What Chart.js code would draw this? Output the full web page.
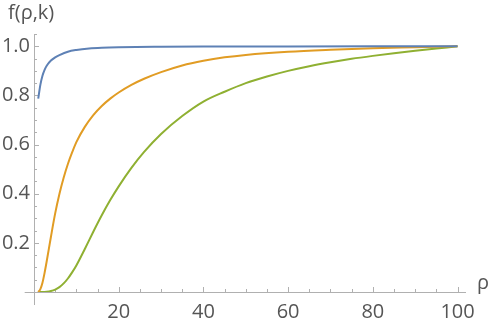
<!DOCTYPE html>
<html>
<head>
<meta charset="utf-8">
<script src="https://cdn.jsdelivr.net/npm/chart.js@4"></script>
<style>
  html, body { margin: 0; padding: 0; background: #fff; }
  #wrap { width: 491px; height: 322px; }
</style>
</head>
<body>
<div id="wrap"><canvas id="chart"></canvas></div>
<script>
// Data
const rhoBlue = [1, 1.5, 2, 2.5, 3, 4, 5, 6, 8, 10, 13, 16, 20, 30, 40, 60, 80, 100];
const fBlue   = [0.787, 0.843, 0.88, 0.904, 0.921, 0.942, 0.955, 0.964, 0.978, 0.985, 0.991, 0.994, 0.996, 0.998, 0.999, 0.9995, 0.9998, 1.0];

const rhoOrange = [1, 1.5, 2, 2.5, 3, 4, 5, 6, 7, 8, 9, 10, 12, 14, 16, 18, 20, 23, 26, 30, 35, 40, 45, 50, 60, 70, 80, 90, 100];
const fOrange   = [0, 0.012, 0.038, 0.078, 0.125, 0.225, 0.32, 0.399, 0.465, 0.521, 0.568, 0.61, 0.672, 0.72, 0.757, 0.787, 0.812, 0.843, 0.868, 0.895, 0.922, 0.941, 0.955, 0.965, 0.978, 0.986, 0.992, 0.996, 1.0];

const rhoGreen = [1, 2, 3, 4, 5, 6, 7, 8, 9, 10, 12, 14, 16, 18, 20, 23, 26, 30, 35, 40, 45, 50, 55, 60, 65, 70, 75, 80, 85, 90, 95, 100];
const fGreen   = [0, 0, 0.001, 0.004, 0.01, 0.02, 0.035, 0.055, 0.08, 0.108, 0.175, 0.245, 0.312, 0.374, 0.43, 0.505, 0.57, 0.643, 0.716, 0.775, 0.815, 0.85, 0.877, 0.9, 0.919, 0.935, 0.949, 0.961, 0.972, 0.982, 0.991, 1.0];

const xLabelTicks = [20, 40, 60, 80, 100];
const yLabelTicks = [0.2, 0.4, 0.6, 0.8, 1.0];

const FONT = '"Open Sans", "DejaVu Sans", sans-serif';
const TEXT = '#555555';
const AXIS = '#b0b0b0';

const pts = (xs, ys) => xs.map((x, i) => ({ x: x, y: ys[i] }));

// Mathematica-style axes: lines through the origin, ticks pointing inward
const axesPlugin = {
  id: 'axes',
  beforeDatasetsDraw(chart) {
    const ctx = chart.ctx;
    const xs = chart.scales.x, ys = chart.scales.y;
    const x0 = xs.getPixelForValue(0), y0 = ys.getPixelForValue(0);
    ctx.save();
    ctx.strokeStyle = AXIS;
    ctx.lineWidth = 1;
    ctx.beginPath();
    ctx.moveTo(xs.getPixelForValue(-2.2), y0 + 0.5);
    ctx.lineTo(xs.right, y0 + 0.5);
    ctx.moveTo(x0 + 0.5, ys.getPixelForValue(-0.053));
    ctx.lineTo(x0 + 0.5, ys.top);
    xs.ticks.forEach(t => {
      const v = Math.round(t.value * 1000) / 1000;
      if (v <= 0 || v % 5 !== 0) return;
      const len = v % 20 === 0 ? 5 : 3;
      const px = Math.round(xs.getPixelForValue(v)) + 0.5;
      ctx.moveTo(px, y0);
      ctx.lineTo(px, y0 - len);
    });
    ys.ticks.forEach(t => {
      const r = Math.round(t.value * 100);
      if (r <= 0 || r % 5 !== 0) return;
      const len = r % 20 === 0 ? 5 : 3;
      const py = Math.round(ys.getPixelForValue(t.value)) + 0.5;
      ctx.moveTo(x0, py);
      ctx.lineTo(x0 + len, py);
    });
    ctx.stroke();

    // axis labels
    ctx.fillStyle = TEXT;
    ctx.font = '20px ' + FONT;
    ctx.textBaseline = 'alphabetic';
    ctx.textAlign = 'left';
    ctx.fillText('f(ρ,k)', 8, 19);
    ctx.fillText('ρ', 477, 289);
    ctx.restore();
  }
};

new Chart(document.getElementById('chart'), {
  type: 'line',
  data: {
    datasets: [
      { label: 'blue', data: pts(rhoBlue, fBlue), borderColor: '#5E81B5' },
      { label: 'orange', data: pts(rhoOrange, fOrange), borderColor: '#E19C24' },
      { label: 'green', data: pts(rhoGreen, fGreen), borderColor: '#8FB032' }
    ].map(d => Object.assign(d, {
      borderWidth: 2,
      pointRadius: 0,
      fill: false,
      cubicInterpolationMode: 'monotone'
    }))
  },
  options: {
    responsive: true,
    maintainAspectRatio: false,
    animation: false,
    devicePixelRatio: 1,
    layout: { padding: { top: 34, right: 25, left: 0, bottom: 0 } },
    plugins: { legend: { display: false }, tooltip: { enabled: false } },
    scales: {
      x: {
        type: 'linear',
        min: 0,
        max: 102,
        grid: { display: false, drawTicks: false },
        border: { display: false },
        ticks: {
          stepSize: 5,
          includeBounds: false,
          autoSkip: false,
          maxRotation: 0,
          padding: 8,
          color: TEXT,
          font: { family: FONT, size: 20 },
          callback: v => xLabelTicks.includes(Math.round(v * 1000) / 1000) ? String(v) : ''
        },
        afterFit: s => { s.height = 30; }
      },
      y: {
        min: 0,
        max: 1.05,
        grid: { display: false, drawTicks: false },
        border: { display: false },
        ticks: {
          stepSize: 0.05,
          autoSkip: false,
          padding: 4,
          color: TEXT,
          font: { family: FONT, size: 20 },
          callback: v => yLabelTicks.some(t => Math.abs(t - v) < 1e-6) ? v.toFixed(1) : ''
        },
        afterFit: s => { s.width = 34; }
      }
    }
  },
  plugins: [axesPlugin]
});
</script>
</body>
</html>
